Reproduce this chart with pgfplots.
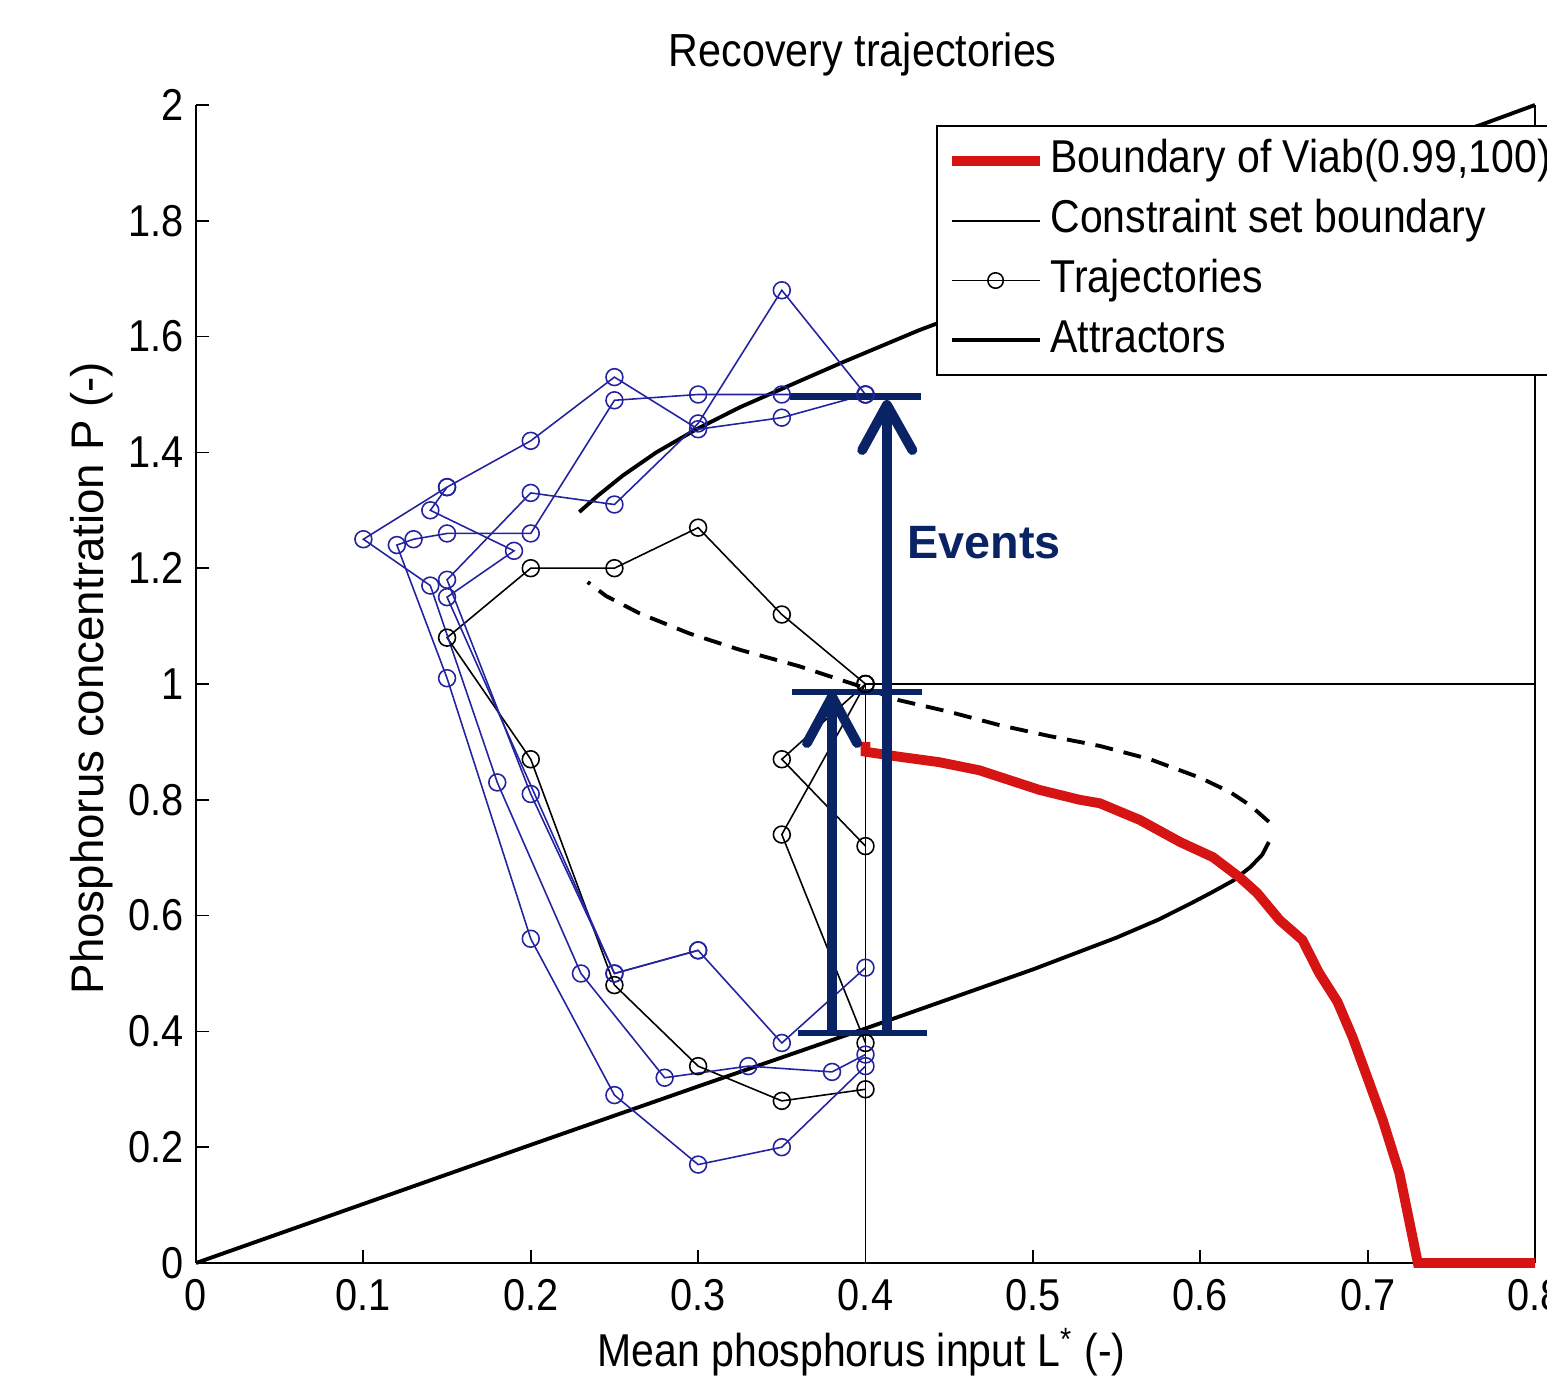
\documentclass[border=0pt]{standalone}
\usepackage{fontspec}
\setmainfont{Liberation Sans}[FakeStretch=0.89]
\newfontfamily\plainfont{Liberation Sans}
\usepackage{pgfplots}
\pgfplotsset{compat=1.18}

\definecolor{trajblue}{RGB}{35,35,160}
\definecolor{viabred}{RGB}{215,20,20}
\definecolor{navy}{RGB}{10,35,100}
\newcommand{\fs}{\fontsize{12.7}{15}\selectfont}
\newcommand{\fl}{\fontsize{13.1}{15}\selectfont}

\begin{document}
\begin{tikzpicture}
\begin{axis}[
    at={(0,0)}, anchor=south west,
    scale only axis, width=133.9mm, height=115.8mm,
    xmin=0, xmax=0.8, ymin=0, ymax=2,
    clip=false,
    axis lines*=left,
    axis line style={line width=0.6pt},
    tick align=inside,
    major tick length=1.3mm,
    tick style={line width=0.5pt, black},
    xtick={0,0.1,0.2,0.3,0.4,0.5,0.6,0.7,0.8},
    ytick={0,0.2,0.4,0.6,0.8,1,1.2,1.4,1.6,1.8,2},
    /pgf/number format/assume math mode=true,
    ticklabel style={font=\fs},
    xticklabel style={yshift=-0.4mm},
    every axis title shift=0pt,
    title={Recovery trajectories},
    title style={at={(axis description cs:0.498,1.0432)}, anchor=center, font=\fontsize{13.2}{15}\selectfont},
    xlabel={Mean phosphorus input L\textsuperscript{*} (-)},
    xlabel style={at={(axis description cs:0.497,-0.0769)}, anchor=center, font=\fl},
    ylabel={Phosphorus concentration P (-)},
    ylabel style={at={(axis description cs:-0.0777,0.505)}, anchor=center, font=\plainfont\fontsize{13}{15}\selectfont},
    legend image code/.code={\draw[mark repeat=2, mark phase=2, #1] plot coordinates {(0mm,0mm) (4.4mm,0mm) (8.8mm,0mm)};},
    legend style={at={(axis cs:0.442,1.965)}, anchor=north west,
        draw=black, line width=0.5pt, fill=white,
        inner xsep=1.0mm, inner ysep=0.5mm, row sep=0pt,
        font=\fl,
        nodes={inner xsep=0pt, inner ysep=2.4pt, text height=9.5pt, text depth=2.7pt, anchor=west},
        /tikz/every odd column/.append style={column sep=0.6mm}},
    legend cell align=left,
]
% legend
\addlegendimage{viabred, line width=2.8pt}
\addlegendentry{Boundary of Viab(0.99,100)}
\addlegendimage{black, line width=0.55pt}
\addlegendentry{Constraint set boundary}
\addlegendimage{black, line width=0.45pt, mark=o, mark size=2.2pt}
\addlegendentry{Trajectories}
\addlegendimage{black, line width=1.1pt}
\addlegendentry{Attractors}

% constraint set boundary
\addplot[black, line width=0.55pt, forget plot] coordinates {(0.4,0) (0.4,1) (0.8,1)};
\addplot[black, line width=0.55pt, forget plot] coordinates {(0.8,0) (0.8,2)};

% attractors: lower stable branch
\addplot[black, line width=1.1pt, forget plot] coordinates {
(0,0) (0.1,0.102) (0.2,0.204) (0.3,0.305) (0.4,0.405) (0.5,0.507)
(0.55,0.562) (0.575,0.593) (0.595,0.622) (0.6075,0.641) (0.62,0.661) (0.63,0.684) (0.637,0.705) (0.641,0.727)};
% unstable branch
\addplot[black, line width=1.1pt, dash pattern=on 1.8mm off 1.1mm, forget plot] coordinates {
(0.641,0.762) (0.63,0.790) (0.618,0.813) (0.60,0.838) (0.57,0.870) (0.54,0.893) (0.51,0.910) (0.48,0.929)
(0.45,0.952) (0.42,0.972) (0.40,0.993) (0.36,1.031) (0.325,1.059) (0.295,1.087)
(0.265,1.122) (0.245,1.152) (0.234,1.176)};
% upper stable branch
\addplot[black, line width=1.1pt, forget plot] coordinates {
(0.229,1.297) (0.24,1.325) (0.255,1.360) (0.275,1.400) (0.299,1.440) (0.325,1.478) (0.351,1.511) (0.385,1.554) (0.432,1.611)
(0.5,1.685) (0.55,1.74) (0.6,1.795) (0.65,1.85) (0.7,1.9) (0.767,1.965) (0.8,2.0)};

% black trajectories
\addplot[black, line width=0.45pt, mark=o, mark size=2.4pt, forget plot] coordinates {
(0.40,1.00) (0.35,1.12) (0.30,1.27) (0.25,1.20) (0.20,1.20) (0.15,1.08) (0.20,0.87)
(0.25,0.48) (0.30,0.34) (0.35,0.28) (0.40,0.30)};
\addplot[black, line width=0.45pt, mark=o, mark size=2.4pt, forget plot] coordinates {
(0.40,1.00) (0.35,0.87) (0.40,0.72)};
\addplot[black, line width=0.45pt, mark=o, mark size=2.4pt, forget plot] coordinates {
(0.40,1.00) (0.35,0.74) (0.40,0.38)};

% blue trajectories
\addplot[trajblue, line width=0.45pt, mark=o, mark size=2.4pt, forget plot] coordinates {
(0.40,1.50) (0.35,1.68) (0.30,1.45) (0.25,1.31) (0.20,1.33) (0.15,1.18) (0.20,0.81)
(0.25,0.50) (0.30,0.54) (0.35,0.38) (0.40,0.51)};
\addplot[trajblue, line width=0.45pt, mark=o, mark size=2.4pt, forget plot] coordinates {
(0.40,1.50) (0.35,1.46) (0.30,1.44) (0.25,1.53) (0.20,1.42) (0.15,1.34) (0.10,1.25)
(0.14,1.17) (0.18,0.83) (0.23,0.50) (0.28,0.32) (0.33,0.34) (0.38,0.33) (0.40,0.36)};
\addplot[trajblue, line width=0.45pt, mark=o, mark size=2.4pt, forget plot] coordinates {
(0.40,1.50) (0.35,1.50) (0.30,1.50) (0.25,1.49) (0.20,1.26) (0.15,1.26) (0.13,1.25)
(0.12,1.24) (0.15,1.01) (0.20,0.56) (0.25,0.29) (0.30,0.17) (0.35,0.20) (0.40,0.34)};
\addplot[trajblue, line width=0.45pt, mark=o, mark size=2.4pt, forget plot] coordinates {
(0.15,1.34) (0.14,1.30) (0.19,1.23) (0.15,1.15) (0.25,0.50) (0.30,0.54)};

% boundary of Viab(0.99,100)
\addplot[viabred, line width=2.8pt, forget plot] coordinates {
(0.400,0.900) (0.400,0.883) (0.421,0.874) (0.444,0.865) (0.468,0.851) (0.504,0.817)
(0.528,0.800) (0.540,0.794) (0.564,0.765) (0.588,0.727) (0.6075,0.701) (0.624,0.665)
(0.634,0.639) (0.6475,0.592) (0.661,0.558) (0.671,0.501) (0.682,0.451) (0.691,0.390)
(0.701,0.311) (0.709,0.247) (0.719,0.155) (0.730,0.0) (0.8,0.0)};

% events annotation
\draw[navy, line width=1.9pt] (axis cs:0.355,1.496) -- (axis cs:0.433,1.496);
\draw[navy, line width=1.9pt] (axis cs:0.356,0.986) -- (axis cs:0.4337,0.986);
\draw[navy, line width=1.9pt] (axis cs:0.3596,0.397) -- (axis cs:0.4367,0.397);
\draw[navy, line width=2.8pt] (axis cs:0.4128,0.397) -- (axis cs:0.4128,1.48);
\draw[navy, line width=2.8pt, line cap=round, line join=round]
    (axis cs:0.398,1.404) -- (axis cs:0.4128,1.482) -- (axis cs:0.428,1.404);
\draw[navy, line width=2.8pt] (axis cs:0.380,0.397) -- (axis cs:0.380,0.975);
\draw[navy, line width=2.8pt, line cap=round, line join=round]
    (axis cs:0.365,0.898) -- (axis cs:0.380,0.978) -- (axis cs:0.395,0.898);
\node[navy, font=\plainfont\bfseries\fontsize{13.3}{15}\selectfont] at (axis cs:0.471,1.2435) {Events};
\end{axis}
\pgfresetboundingbox
\path[use as bounding box] (-19.6mm,-11.7mm) rectangle (135.1mm,126.3mm);
\end{tikzpicture}
\end{document}
